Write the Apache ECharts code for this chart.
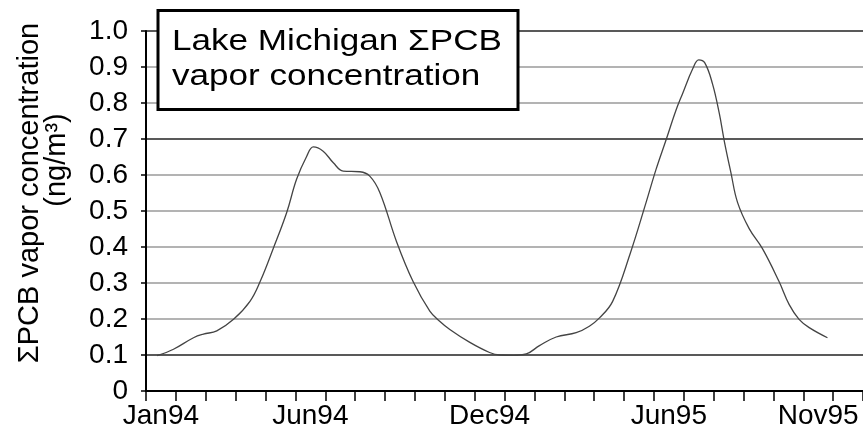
<!DOCTYPE html>
<html>
<head>
<meta charset="utf-8">
<script src="https://cdn.jsdelivr.net/npm/echarts@6/dist/echarts.min.js"></script>
<style>html,body{margin:0;padding:0;background:#fff;}#c{width:863px;height:431px;}</style>
</head>
<body>
<div id="c"></div>
<script>
// Month categories (Jan94 .. Dec95)
var months = ['Jan94','Feb94','Mar94','Apr94','May94','Jun94','Jul94','Aug94','Sep94','Oct94','Nov94','Dec94',
              'Jan95','Feb95','Mar95','Apr95','May95','Jun95','Jul95','Aug95','Sep95','Oct95','Nov95','Dec95'];
var shownLabels = ['Jan94','Jun94','Dec94','Jun95','Nov95'];
// curve sample positions in months from start of Jan94, and concentrations (ng/m3)
var tMonths = [0.37,0.92,1.59,1.92,2.37,2.93,3.48,3.82,4.26,4.71,5.04,5.38,5.6,5.93,6.27,6.6,7.16,7.49,7.83,8.39,8.94,9.5,9.83,
               10.17,10.84,11.5,11.84,12.3,12.73,13.17,13.73,14.4,14.84,15.18,15.62,16.2,16.74,17.07,17.41,17.74,17.96,18.3,18.5,
               18.7,18.96,19.19,19.36,19.58,19.8,20.19,20.63,21.19,21.53,21.86,22.2,22.81];
var pcb = [0.098,0.116,0.148,0.158,0.167,0.199,0.249,0.304,0.396,0.496,0.588,0.652,0.678,0.666,0.634,0.611,0.609,0.597,0.551,0.414,0.304,0.222,0.194,
           0.171,0.135,0.107,0.100,0.099,0.103,0.126,0.150,0.162,0.180,0.203,0.249,0.380,0.524,0.615,0.698,0.780,0.826,0.895,0.920,
           0.912,0.854,0.771,0.693,0.606,0.524,0.451,0.396,0.304,0.240,0.199,0.176,0.148];
var yTicks = [0,0.1,0.2,0.3,0.4,0.5,0.6,0.7,0.8,0.9,1.0];

var lineData = tMonths.map(function(t,i){return [t,pcb[i]];});
var gridColors = yTicks.map(function(v){
  var k = Math.round(v*10);
  return (k===0||k===1||k===7||k===10) ? '#222' : '#9a9a9a';
});

var chart = echarts.init(document.getElementById('c'), null, {renderer:'canvas'});
chart.setOption({
  animation:false,
  backgroundColor:'#fff',
  textStyle:{fontFamily:'Liberation Sans, Arial, sans-serif'},
  grid:{left:146, top:31, width:718, height:360, containLabel:false},
  xAxis:[{
    type:'category', data:months, boundaryGap:true, position:'bottom',
    axisLine:{lineStyle:{color:'#000', width:2}},
    axisTick:{show:true, interval:0, length:10, lineStyle:{color:'#000', width:1.5}},
    axisLabel:{interval:function(i,v){return shownLabels.indexOf(v)>=0;}, fontSize:28, color:'#000', margin:11},
    splitLine:{show:false}
  },{
    type:'value', min:0, max:24, show:false
  }],
  yAxis:{
    type:'value', min:0, max:1, interval:0.1,
    axisLine:{show:true, lineStyle:{color:'#000', width:2}},
    axisTick:{show:true, length:5, lineStyle:{color:'#000', width:1.5}},
    axisLabel:{fontSize:28, color:'#000', margin:18, formatter:function(v){return v===0?'0':v.toFixed(1);}},
    splitLine:{show:true, lineStyle:{color:gridColors, width:1.6}}
  },
  series:[{
    type:'line', xAxisIndex:1, data:lineData, smooth:0.4, showSymbol:false,
    lineStyle:{color:'#444', width:1.3}, z:3
  }],
  graphic:[
    {type:'rect', z:100, shape:{x:158, y:10.5, width:360, height:99},
     style:{fill:'#fff', stroke:'#000', lineWidth:3}},
    {type:'text', z:101, x:172, y:58.8, scaleX:1.17,
     style:{text:'Lake Michigan ΣPCB\nvapor concentration', font:'30px "Liberation Sans", Arial, sans-serif',
            fill:'#000', lineHeight:35, textAlign:'left', textVerticalAlign:'middle'}},
    {type:'text', z:101, x:30, y:193, rotation:Math.PI/2,
     style:{text:'ΣPCB vapor concentration', font:'29px "Liberation Sans", Arial, sans-serif',
            fill:'#000', textAlign:'center', textVerticalAlign:'middle'}},
    {type:'text', z:101, x:57, y:160, rotation:Math.PI/2,
     style:{text:'(ng/m³)', font:'29px "Liberation Sans", Arial, sans-serif',
            fill:'#000', textAlign:'center', textVerticalAlign:'middle'}}
  ]
});
</script>
</body>
</html>
